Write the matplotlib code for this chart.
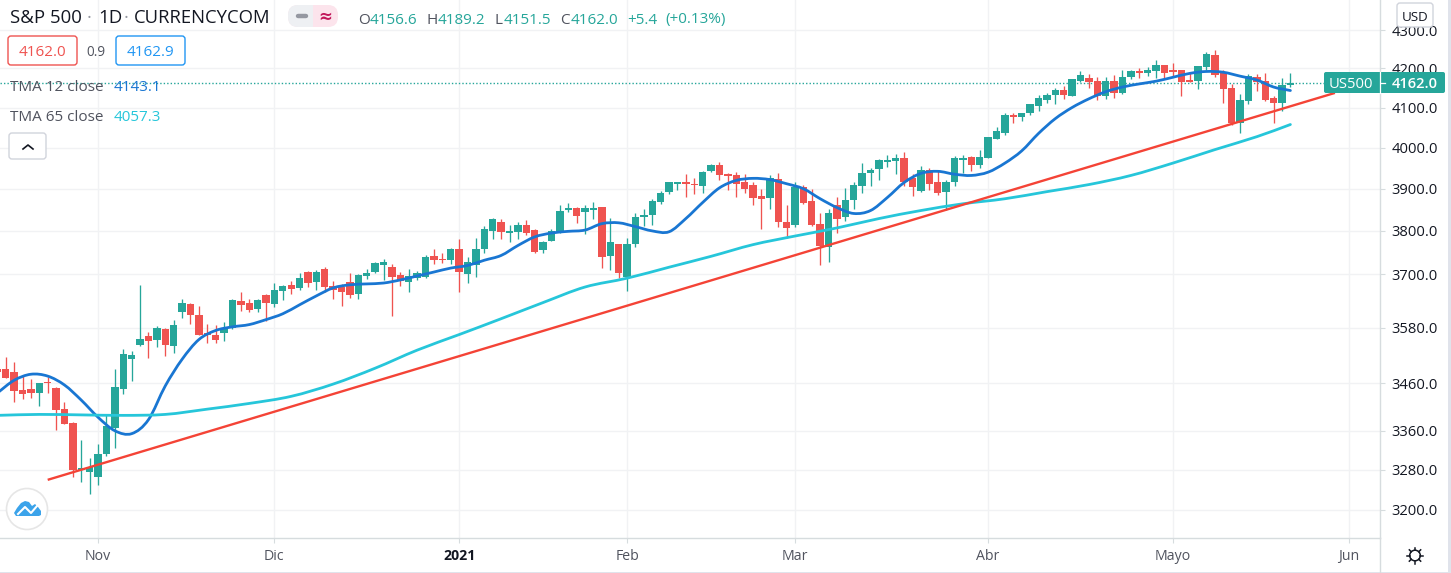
import numpy as np
import matplotlib
matplotlib.use('Agg')
import matplotlib.pyplot as plt
from matplotlib.patches import FancyBboxPatch, Rectangle, Circle, Polygon, PathPatch
from matplotlib.path import Path

plt.rcParams['font.family'] = ['Open Sans', 'DejaVu Sans']

# candles
opens = [3490, 3490, 3483, 3445, 3447, 3439, 3462, 3449, 3405, 3377,
         3280, 3276, 3266, 3313, 3366, 3447, 3511, 3543, 3561, 3554,
         3578, 3541, 3614, 3633, 3609, 3569, 3563, 3569, 3580, 3640,
         3636, 3622, 3653, 3633, 3662, 3676, 3669, 3705, 3682, 3711,
         3673, 3671, 3682, 3656, 3696, 3705, 3720, 3716, 3698, 3682,
         3691, 3693, 3741, 3734, 3732, 3759, 3700, 3720, 3757, 3800,
         3821, 3795, 3798, 3814, 3802, 3755, 3777, 3800, 3850, 3855,
         3845, 3850, 3857, 3741, 3770, 3693, 3770, 3833, 3838, 3868,
         3893, 3912, 3917, 3912, 3907, 3942, 3957, 3935, 3932, 3915,
         3910, 3883, 3878, 3924, 3821, 3814, 3905, 3871, 3817, 3763,
         3862, 3833, 3873, 3907, 3937, 3947, 3965, 3967, 3975, 3925,
         3895, 3945, 3915, 3893, 3915, 3970, 3977, 3957, 3975, 4022,
         4037, 4082, 4077, 4085, 4105, 4120, 4132, 4145, 4130, 4167,
         4175, 4167, 4130, 4167, 4137, 4177, 4192, 4187, 4192, 4210,
         4195, 4195, 4170, 4167, 4203, 4234, 4190, 4150, 4062, 4117,
         4177, 4167, 4125, 4112, 4156.6]
closes = [3483, 3472, 3444, 3437, 3439, 3460, 3460, 3403, 3375, 3280,
          3283, 3286, 3313, 3369, 3451, 3522, 3520, 3556, 3552, 3580,
          3543, 3587, 3635, 3609, 3563, 3565, 3554, 3580, 3642, 3631,
          3620, 3642, 3636, 3664, 3673, 3667, 3691, 3680, 3705, 3671,
          3664, 3660, 3653, 3698, 3702, 3725, 3727, 3693, 3684, 3696,
          3702, 3739, 3732, 3732, 3757, 3705, 3727, 3759, 3805, 3829,
          3798, 3800, 3814, 3795, 3752, 3775, 3800, 3848, 3855, 3836,
          3855, 3855, 3739, 3775, 3702, 3770, 3833, 3838, 3871, 3890,
          3917, 3917, 3912, 3910, 3940, 3957, 3932, 3930, 3912, 3900,
          3878, 3876, 3927, 3821, 3807, 3905, 3866, 3814, 3765, 3843,
          3829, 3873, 3910, 3937, 3945, 3970, 3970, 3975, 3917, 3905,
          3945, 3912, 3890, 3917, 3975, 3975, 3957, 3977, 4027, 4040,
          4082, 4075, 4087, 4110, 4125, 4132, 4145, 4132, 4172, 4182,
          4165, 4130, 4167, 4137, 4177, 4192, 4187, 4195, 4210, 4187,
          4190, 4165, 4165, 4205, 4237, 4182, 4147, 4060, 4120, 4180,
          4165, 4120, 4112, 4157, 4162]
highs = [3491, 3517, 3506, 3477, 3469, 3461, 3473, 3451, 3419, 3379,
         3341, 3304, 3332, 3392, 3490, 3533, 3529, 3676, 3571, 3584,
         3580, 3598, 3644, 3635, 3629, 3589, 3587, 3593, 3644, 3660,
         3644, 3644, 3656, 3680, 3676, 3684, 3702, 3707, 3709, 3716,
         3684, 3678, 3702, 3700, 3713, 3727, 3734, 3723, 3705, 3711,
         3707, 3743, 3757, 3748, 3761, 3782, 3739, 3784, 3812, 3831,
         3829, 3814, 3821, 3826, 3805, 3777, 3805, 3860, 3867, 3857,
         3860, 3869, 3857, 3831, 3770, 3784, 3843, 3852, 3876, 3895,
         3917, 3917, 3935, 3927, 3942, 3960, 3965, 3937, 3940, 3935,
         3917, 3900, 3932, 3937, 3860, 3915, 3910, 3900, 3843, 3852,
         3880, 3902, 3917, 3962, 3950, 3972, 3982, 3985, 3990, 3935,
         3955, 3950, 3942, 3920, 3980, 3982, 3980, 3995, 4027, 4050,
         4085, 4087, 4087, 4110, 4132, 4137, 4150, 4155, 4172, 4192,
         4185, 4177, 4177, 4182, 4197, 4197, 4200, 4203, 4221, 4210,
         4213, 4195, 4190, 4205, 4242, 4247, 4195, 4160, 4135, 4185,
         4185, 4187, 4130, 4175, 4189.2]
lows = [3482, 3471, 3420, 3426, 3428, 3411, 3439, 3362, 3375, 3266,
        3256, 3232, 3250, 3309, 3324, 3437, 3464, 3541, 3513, 3537,
        3518, 3524, 3602, 3589, 3563, 3546, 3546, 3552, 3578, 3618,
        3616, 3616, 3596, 3627, 3642, 3656, 3664, 3671, 3664, 3660,
        3644, 3629, 3647, 3644, 3689, 3702, 3687, 3607, 3673, 3660,
        3687, 3691, 3723, 3725, 3723, 3660, 3680, 3693, 3748, 3782,
        3782, 3773, 3782, 3791, 3748, 3748, 3777, 3795, 3845, 3819,
        3793, 3829, 3714, 3709, 3691, 3662, 3763, 3812, 3814, 3863,
        3888, 3898, 3880, 3888, 3890, 3940, 3922, 3898, 3880, 3890,
        3862, 3805, 3852, 3810, 3784, 3810, 3863, 3812, 3720, 3727,
        3795, 3824, 3852, 3890, 3907, 3922, 3952, 3935, 3907, 3883,
        3892, 3898, 3885, 3850, 3907, 3937, 3942, 3950, 3975, 4022,
        4030, 4062, 4067, 4082, 4090, 4112, 4110, 4122, 4128, 4165,
        4150, 4120, 4122, 4125, 4135, 4172, 4175, 4180, 4175, 4175,
        4180, 4130, 4165, 4147, 4197, 4177, 4112, 4057, 4035, 4110,
        4142, 4117, 4062, 4090, 4151.5]

# TMA 12, one reading every second bar
tma12 = [3439, 3466, 3479, 3475, 3456, 3424, 3388, 3360, 3354, 3383,
         3454, 3511, 3554, 3574, 3582, 3587, 3598, 3611, 3631, 3651,
         3669, 3676, 3678, 3680, 3687, 3696, 3705, 3714, 3720, 3732,
         3743, 3766, 3786, 3795, 3799, 3802, 3817, 3819, 3810, 3800,
         3798, 3829, 3867, 3902, 3920, 3925, 3922, 3912, 3900, 3876,
         3855, 3841, 3848, 3879, 3915, 3937, 3942, 3935, 3932, 3940,
         3962, 3992, 4035, 4072, 4100, 4122, 4140, 4152, 4160, 4167,
         4177, 4187, 4192, 4190, 4180, 4170, 4152, 4143.1]
# TMA 65, one reading every fifth bar
tma65_bars = [0, 5, 10, 15, 20, 25, 30, 35, 40, 45, 50, 55, 60, 65, 70, 75, 80,
              85, 90, 95, 100, 105, 110, 115, 120, 125, 130, 135, 140, 145, 150, 154]
tma65 = [3392, 3394, 3393, 3392, 3394, 3405, 3417, 3432, 3458, 3492, 3531, 3565,
         3600, 3636, 3671, 3691, 3716, 3741, 3768, 3788, 3807, 3829, 3848, 3864,
         3876, 3893, 3910, 3932, 3962, 3995, 4027, 4057.3]
trend_bars = [6, 159.3]
trend_prices = [3260, 4137]

price_ticks = [3200, 3280, 3360, 3460, 3580, 3700, 3800, 3900, 4000, 4100, 4200, 4300]
month_bars = [12, 33, 55, 75, 95, 118, 140, 161]
month_labels = ['Nov', 'Dic', '2021', 'Feb', 'Mar', 'Abr', 'Mayo', 'Jun']
last_price = 4162.0

UP = '#26a69a'
DOWN = '#ef5350'
BLUE = '#1976d2'
CYAN = '#26c6da'
GRID = '#f1f2f4'
BORDER = '#e0e3eb'
INK = '#131722'
GREY = '#50535e'

W, H = 1451, 573
fig = plt.figure(figsize=(W / 100, H / 100), dpi=100, facecolor='white')
PANE_R, PANE_B = 1380, 538
ax = fig.add_axes([0, 1 - PANE_B / H, PANE_R / W, PANE_B / H])

bars = np.arange(len(opens))
o = np.array(opens)
c = np.array(closes)
colors = [UP if c[i] >= o[i] else DOWN for i in bars]

ax.set_yscale('log')
ax.vlines(bars, lows, highs, colors=colors, linewidth=0.95, zorder=3)
ax.bar(bars, np.maximum(np.abs(c - o), 1.5), bottom=np.minimum(o, c), width=0.88,
       color=colors, linewidth=0, zorder=3)


def smooth_line(xs, ys, color, lw):
    # the TMA lines are smooth curves, so join the readings with beziers
    xs = np.array(xs, float)
    ys = np.array(ys, float)
    dx = np.gradient(xs)
    dy = np.gradient(ys)
    verts = [(xs[0], ys[0])]
    codes = [Path.MOVETO]
    for i in range(len(xs) - 1):
        verts.append((xs[i] + dx[i] / 3, ys[i] + dy[i] / 3))
        verts.append((xs[i + 1] - dx[i + 1] / 3, ys[i + 1] - dy[i + 1] / 3))
        verts.append((xs[i + 1], ys[i + 1]))
        codes += [Path.CURVE4] * 3
    ax.add_patch(PathPatch(Path(verts, codes), fc='none', ec=color, lw=lw, zorder=4,
                           capstyle='round', joinstyle='round'))


smooth_line(np.arange(0, 155, 2), tma12, BLUE, 2.0)
smooth_line(tma65_bars, tma65, CYAN, 2.0)
ax.plot(trend_bars, trend_prices, color='#f44336', lw=1.7, zorder=5, solid_capstyle='butt')
ax.axhline(last_price, color=UP, lw=1.0, ls=(0, (1, 1.5)), zorder=2)

ax.set_xlim(0.32, 164.67)
ax.set_ylim(3145.3, 4380.6)
ax.minorticks_off()
ax.yaxis.tick_right()
ax.set_yticks(price_ticks)
ax.set_yticklabels([f'{p:.1f}' for p in price_ticks], fontsize=10.6, color=INK)
ax.yaxis.set_minor_locator(matplotlib.ticker.NullLocator())
ax.set_xticks(month_bars)
ax.set_xticklabels(month_labels, fontsize=10.2, color=GREY)
ax.get_xticklabels()[2].set_fontweight('bold')
ax.get_xticklabels()[2].set_color(INK)
ax.tick_params(axis='y', length=3.5, width=0.8, color='#d6dcde', pad=5)
ax.tick_params(axis='x', length=3.5, width=0.8, color='#d6dcde', pad=4.5)
ax.grid(True, color=GRID, lw=1, zorder=0)
ax.set_axisbelow(True)
for side in ['top', 'left']:
    ax.spines[side].set_visible(False)
for side in ['right', 'bottom']:
    ax.spines[side].set_color('#d6dcde')
    ax.spines[side].set_linewidth(1)

# everything around the chart is laid out in screen pixels
ui = fig.add_axes([0, 0, 1, 1], facecolor='none', zorder=10)
ui.set_xlim(0, W)
ui.set_ylim(H, 0)
ui.axis('off')


def box(x0, y0, x1, y1, r, fc='white', ec='none', lw=1.0):
    p = FancyBboxPatch((x0 + r, y0 + r), x1 - x0 - 2 * r, y1 - y0 - 2 * r,
                       boxstyle=f'round,pad={r}', fc=fc, ec=ec, lw=lw)
    ui.add_patch(p)
    return p


def label(x, y, s, color=GREY, size=11, ha='left', **kw):
    ui.text(x, y, s, color=color, fontsize=size, ha=ha, va='center_baseline', **kw)


# title row
label(10, 16, 'S&P 500', INK, 13.4)
label(87, 16, '·', '#9598a1', 13)
label(98, 16, '1D', INK, 13.4)
label(124, 16, '·', '#9598a1', 13)
label(134, 16, 'CURRENCYCOM', INK, 13.3)

box(288, 5, 338, 27, 10, fc='#fce4ec')
grey_half = box(288, 5, 338, 27, 10, fc='#eef0f3')
clip = Rectangle((288, 5), 25, 22, transform=ui.transData)
grey_half.set_clip_path(clip)
ui.plot([298, 306], [16, 16], color='#9598a1', lw=3.2, solid_capstyle='round')
label(325, 15, '≈', '#c2185b', 12, ha='center', fontweight='bold', family='DejaVu Sans')

for x, s, col in [(358, 'O', GREY), (370, '4156.6', UP), (427, 'H', GREY), (438, '4189.2', UP),
                  (495, 'L', GREY), (504, '4151.5', UP), (560, 'C', GREY), (571, '4162.0', UP),
                  (627, '+5.4', UP), (665, '(+0.13%)', UP)]:
    label(x, 18, s, col)

# buy / sell boxes
box(8, 36, 77, 65, 3, ec='#ef5350')
label(42.5, 51, '4162.0', '#ef5350', ha='center')
label(96, 51, '0.9', GREY, 9.8, ha='center')
box(116, 36, 185, 65, 3, ec='#2196f3')
label(150.5, 51, '4162.9', '#2196f3', ha='center')

# study legend
label(10, 85.5, 'TMA 12 close', GREY)
label(114, 85.5, '4143.1', BLUE)
label(10, 115.5, 'TMA 65 close', GREY)
label(114, 115.5, '4057.3', CYAN)
box(9, 133, 46, 159, 3, ec='#d1d4dc')
ui.plot([23, 28, 33], [149, 145, 149], color=INK, lw=1.2)

# logo
ui.add_patch(Circle((27, 509), 20.5, fc='white', ec='#e6e6e6', lw=1.2))
ui.add_patch(Polygon([(14, 513), (17, 508), (21, 503), (25, 501), (29, 502), (32, 506),
                      (35, 504), (38, 507), (41, 511), (41, 515), (39, 516), (16, 516)],
                     closed=True, fc='#3ba3ea', ec='none'))
ui.plot([18, 25, 31, 37], [514, 507, 513, 506], color='white', lw=1.5)

# currency box and last-price tag
box(1397, 3, 1433, 27, 3, ec='#d1d4dc')
label(1415, 16, 'USD', INK, 9.6, ha='center')
box(1324, 72, 1445, 93, 2, fc=UP)
ui.plot([1379.5, 1379.5], [72, 93], color='white', lw=0.9)
ui.plot([1381, 1385], [82.5, 82.5], color='white', lw=0.9)
label(1351, 82.5, 'US500', 'white', 10.6, ha='center')
label(1415, 82.5, '4162.0', 'white', 10.6, ha='center', fontweight='semibold')

# settings corner
ui.plot([PANE_R, PANE_R], [PANE_B, H], color='#d6dcde', lw=1)
ui.add_patch(Circle((1415, 555.5), 5.3, fc='none', ec=INK, lw=1.1))
for a in np.arange(0, 2 * np.pi, np.pi / 4):
    ui.plot([1415 + 5.3 * np.cos(a), 1415 + 8 * np.cos(a)],
            [555.5 + 5.3 * np.sin(a), 555.5 + 8 * np.sin(a)], color=INK, lw=1.1)

# window edges
ui.add_patch(Rectangle((0, 571.5), W, 1.5, fc=BORDER, ec='none'))
ui.add_patch(Rectangle((1447.5, 0), 3.5, H, fc=BORDER, ec='none'))

fig.savefig('out.png', dpi=100)
